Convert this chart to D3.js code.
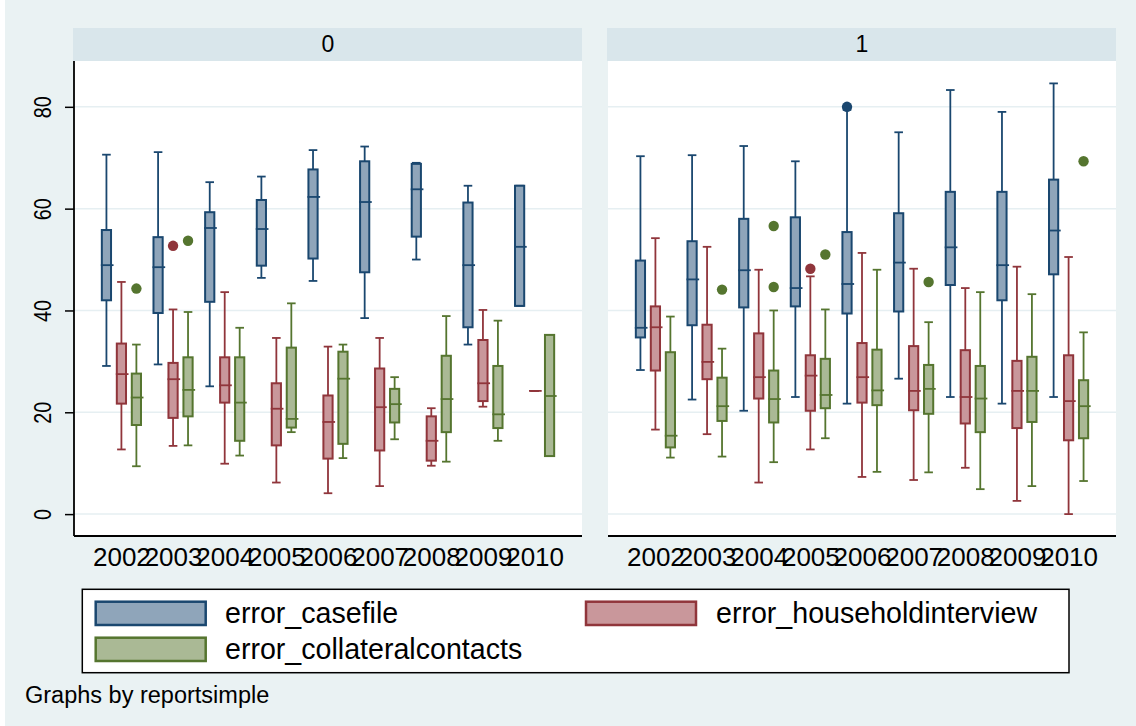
<!DOCTYPE html>
<html>
<head>
<meta charset="utf-8">
<script src="https://cdn.jsdelivr.net/npm/d3@7"></script>
<style>
  body { margin: 0; background: #ffffff; }
  svg text { font-family: Arial, "Liberation Sans", sans-serif; fill: #000; }
</style>
</head>
<body>
<svg id="chart"></svg>
<script>
// data: [lower whisker, q1, median, q3, upper whisker]
var years = ["2002", "2003", "2004", "2005", "2006", "2007", "2008", "2009", "2010"];
var panels = ["0", "1"];
var seriesNames = ["error_casefile", "error_householdinterview", "error_collateralcontacts"];
var yTicks = [0, 20, 40, 60, 80];

var casefile0 = [
  [29.1, 42.0, 48.9, 55.8, 70.6], [29.4, 39.5, 48.5, 54.4, 71.1], [25.1, 41.7, 56.2, 59.3, 65.2],
  [46.4, 48.8, 56.0, 61.7, 66.3], [45.8, 50.2, 62.3, 67.7, 71.5], [38.5, 47.5, 61.3, 69.3, 72.2],
  [50.0, 54.5, 63.8, 68.8, 69.0], [33.3, 36.7, 48.9, 61.2, 64.5], [40.9, 40.9, 52.5, 64.5, 64.5]
];
var household0 = [
  [12.7, 21.7, 27.5, 33.5, 45.6], [13.4, 18.9, 26.5, 29.7, 40.2], [9.9, 21.9, 25.3, 30.8, 43.6],
  [6.2, 13.5, 20.7, 25.7, 34.6], [4.1, 10.9, 18.1, 23.3, 32.9], [5.5, 12.5, 21.0, 28.6, 34.6],
  [9.5, 10.5, 14.4, 19.2, 20.8], [21.1, 22.2, 25.7, 34.2, 40.1], [24.2, 24.2, 24.2, 24.2, 24.2]
];
var collateral0 = [
  [9.4, 17.5, 22.9, 27.6, 33.3], [13.5, 19.2, 24.4, 30.8, 39.7], [11.5, 14.4, 21.9, 30.8, 36.6],
  [16.1, 17.0, 18.7, 32.7, 41.4], [11.0, 13.8, 26.6, 31.9, 33.3], [14.7, 18.0, 21.6, 24.6, 26.9],
  [10.3, 16.1, 22.6, 31.1, 38.9], [14.4, 16.9, 19.6, 29.1, 38.0], [11.4, 11.4, 23.2, 35.2, 35.2]
];
var casefile1 = [
  [28.3, 34.7, 36.6, 49.8, 70.3], [22.5, 37.1, 46.1, 53.6, 70.5], [20.3, 40.6, 47.9, 58.0, 72.3],
  [23.0, 40.8, 44.4, 58.3, 69.3], [21.7, 39.4, 45.2, 55.4, 79.4], [26.6, 39.8, 49.4, 59.1, 75.0],
  [23.0, 45.0, 52.4, 63.3, 83.3], [21.7, 42.0, 48.9, 63.3, 79.0], [23.0, 47.1, 55.7, 65.7, 84.6]
];
var household1 = [
  [16.6, 28.2, 36.7, 40.8, 54.2], [15.7, 26.5, 29.9, 37.2, 52.5], [6.2, 22.7, 26.9, 35.5, 48.0],
  [12.7, 20.3, 27.2, 31.2, 46.7], [7.3, 21.9, 26.9, 33.6, 51.3], [6.7, 20.4, 24.2, 33.0, 48.2],
  [9.1, 17.8, 23.0, 32.2, 44.4], [2.6, 16.9, 24.2, 30.1, 48.6], [0.0, 14.5, 22.2, 31.2, 50.5]
];
var collateral1 = [
  [11.1, 13.1, 15.4, 31.8, 38.8], [11.3, 18.3, 21.2, 26.8, 32.5], [10.2, 18.0, 22.6, 28.2, 40.0],
  [14.9, 20.8, 23.4, 30.5, 40.2], [8.3, 21.4, 24.3, 32.3, 48.0], [8.2, 19.7, 24.6, 29.3, 37.7],
  [4.9, 16.1, 22.7, 29.1, 43.6], [5.5, 18.1, 24.2, 30.9, 43.2], [6.5, 14.9, 21.2, 26.3, 35.7]
];
// outliers: [panel, year, series index, value]
var outliers = [
  ["0", "2002", 2, 44.3], ["0", "2003", 1, 52.7], ["0", "2003", 2, 53.7],
  ["1", "2003", 2, 44.1], ["1", "2004", 2, 56.6], ["1", "2004", 2, 44.6],
  ["1", "2005", 1, 48.2], ["1", "2005", 2, 51.0], ["1", "2006", 0, 80.0],
  ["1", "2007", 2, 45.6], ["1", "2010", 2, 69.3]
];

var stats = {
  "0": [casefile0, household0, collateral0],
  "1": [casefile1, household1, collateral1]
};

// Stata s2color look
var strokeCol = ["#1a476f", "#90353b", "#55752f"];
var fillCol = ["#8fa5ba", "#c9979b", "#aab995"];

var W = 1136, H = 726;
var svg = d3.select("#chart").attr("width", W).attr("height", H);

svg.append("rect").attr("x", 5).attr("y", 0).attr("width", W - 5).attr("height", H)
  .attr("fill", "#eaf2f3");

var plotTop = 61, plotBottom = 536, headTop = 28;
var panelX = { "0": [74, 582], "1": [608, 1116] };

var yScale = d3.scaleLinear().domain([-4.3, 89.0]).range([plotBottom, plotTop]);

panels.forEach(function(p) {
  var x0 = panelX[p][0], x1 = panelX[p][1];
  var g = svg.append("g").attr("transform", "translate(" + x0 + ",0)");
  var pw = x1 - x0;

  // header strip
  g.append("rect").attr("x", -1).attr("y", headTop).attr("width", pw + 1).attr("height", plotTop - headTop)
    .attr("fill", "#d9e6eb");
  g.append("text").attr("x", pw / 2).attr("y", 52.3).attr("text-anchor", "middle")
    .style("font-size", "23px").text(p);

  // plot region
  g.append("rect").attr("x", 0).attr("y", plotTop).attr("width", pw).attr("height", plotBottom - plotTop)
    .attr("fill", "#ffffff");

  // gridlines
  g.selectAll(".grid").data(yTicks).enter().append("line")
    .attr("x1", 0).attr("x2", pw)
    .attr("y1", function(d) { return yScale(d); })
    .attr("y2", function(d) { return yScale(d); })
    .attr("stroke", "#e6eff2").attr("stroke-width", 1.5);

  var xScale = d3.scalePoint().domain(years).range([0, pw]).padding(0.918);
  var step = xScale.step();
  var inner = d3.scalePoint().domain([0, 1, 2]).range([-0.29 * step, 0.29 * step]);
  var bw = 9.2, cap = 8.6;

  // x axis
  var xAxis = d3.axisBottom(xScale).tickSize(0).tickPadding(0);
  var ax = g.append("g").attr("transform", "translate(0," + plotBottom + ")").call(xAxis);
  ax.select(".domain").remove();
  ax.selectAll("text").attr("y", 29.9).attr("dy", null)
    .style("font-size", "26px").style("font-family", "Arial, 'Liberation Sans', sans-serif").attr("fill", "#000");
  g.append("line").attr("x1", 0).attr("x2", pw).attr("y1", plotBottom).attr("y2", plotBottom)
    .attr("stroke", "#000").attr("stroke-width", 1.8);

  // y axis only on the left panel
  if (p === "0") {
    var yAxis = d3.axisLeft(yScale).tickValues(yTicks).tickSize(9).tickFormat(d3.format("d"));
    var ay = g.append("g").call(yAxis);
    ay.select(".domain").attr("d", "M0," + plotTop + "V" + plotBottom).attr("stroke-width", 1.8);
    ay.selectAll(".tick line").attr("stroke-width", 1.5);
    ay.selectAll(".tick text")
      .attr("x", null).attr("dy", null)
      .attr("transform", "translate(-30.7,0) rotate(-90)")
      .attr("text-anchor", "middle").attr("dominant-baseline", "central")
      .attr("textLength", function(d) { return String(d).length * 11; })
      .attr("lengthAdjust", "spacingAndGlyphs")
      .style("font-size", "23px").style("font-family", "Arial, 'Liberation Sans', sans-serif").attr("fill", "#000");
  }

  // boxes
  seriesNames.forEach(function(name, si) {
    var rows = stats[p][si];
    var sg = g.append("g");
    rows.forEach(function(s, i) {
      var cx = xScale(years[i]) + inner(si);
      // whiskers
      sg.append("line").attr("x1", cx).attr("x2", cx).attr("y1", yScale(s[3])).attr("y2", yScale(s[4]))
        .attr("stroke", strokeCol[si]).attr("stroke-width", 1.8);
      sg.append("line").attr("x1", cx).attr("x2", cx).attr("y1", yScale(s[0])).attr("y2", yScale(s[1]))
        .attr("stroke", strokeCol[si]).attr("stroke-width", 1.8);
      [s[0], s[4]].forEach(function(v) {
        sg.append("line").attr("x1", cx - cap / 2).attr("x2", cx + cap / 2)
          .attr("y1", yScale(v)).attr("y2", yScale(v))
          .attr("stroke", strokeCol[si]).attr("stroke-width", 1.8);
      });
      // box
      if (s[3] > s[1]) {
        sg.append("rect").attr("x", cx - bw / 2).attr("width", bw)
          .attr("y", yScale(s[3])).attr("height", yScale(s[1]) - yScale(s[3]))
          .attr("fill", fillCol[si]).attr("stroke", strokeCol[si]).attr("stroke-width", 2);
      }
      // median
      sg.append("line").attr("x1", cx - bw / 2 - 1).attr("x2", cx + bw / 2 + 2.5)
        .attr("y1", yScale(s[2])).attr("y2", yScale(s[2]))
        .attr("stroke", strokeCol[si]).attr("stroke-width", 1.8);
    });
  });

  // outside values
  g.selectAll(".out").data(outliers.filter(function(o) { return o[0] === p; })).enter().append("circle")
    .attr("cx", function(o) { return xScale(o[1]) + inner(o[2]); })
    .attr("cy", function(o) { return yScale(o[3]); })
    .attr("r", 5.2)
    .attr("fill", function(o) { return strokeCol[o[2]]; });
});

// legend
svg.append("rect").attr("x", 82.3).attr("y", 589.3).attr("width", 986.7).attr("height", 83.4)
  .attr("fill", "#fff").attr("stroke", "#000").attr("stroke-width", 1.5);
var legPos = [[94.7, 600.7, 225], [585, 600.7, 716], [94.7, 636.7, 225]];
seriesNames.forEach(function(name, si) {
  var lp = legPos[si];
  svg.append("rect").attr("x", lp[0] + 1).attr("y", lp[1] + 1).attr("width", 110).attr("height", 23.3)
    .attr("fill", fillCol[si]).attr("stroke", strokeCol[si]).attr("stroke-width", 2.5);
  svg.append("text").attr("x", lp[2]).attr("y", lp[1] + 22.5)
    .style("font-size", "28.6px").text(name);
});

svg.append("text").attr("x", 25).attr("y", 703).style("font-size", "23.5px").text("Graphs by reportsimple");
</script>
</body>
</html>
